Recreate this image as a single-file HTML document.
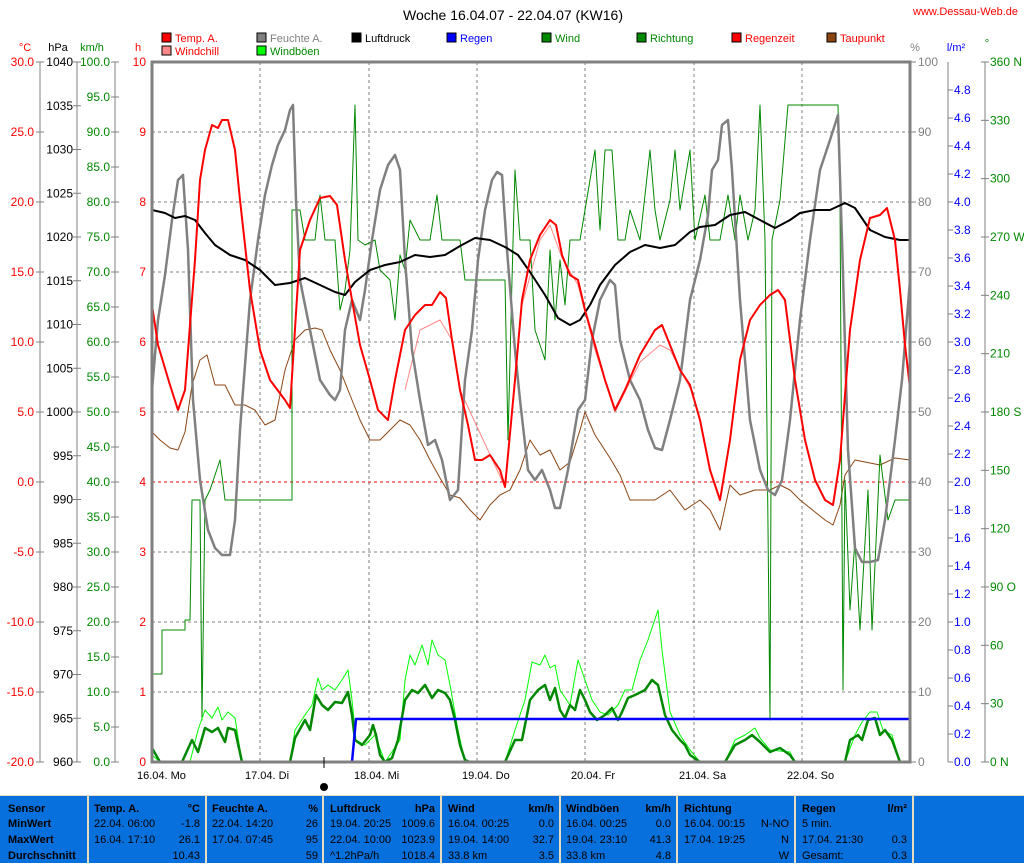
<!DOCTYPE html><html><head><meta charset="utf-8"><style>
body{margin:0;background:#fff;width:1024px;height:863px;overflow:hidden;font-family:"Liberation Sans",sans-serif}
svg text{font-family:"Liberation Sans",sans-serif;font-size:12px}
</style></head><body>
<svg width="1024" height="863" xmlns="http://www.w3.org/2000/svg">
<text x="513" y="20" text-anchor="middle" font-size="14" style="font-size:14px">Woche 16.04.07 - 22.04.07 (KW16)</text>
<text x="1018" y="15" text-anchor="end" fill="#f00" style="font-size:11px">www.Dessau-Web.de</text>
<!-- legend -->
<g style="font-size:11px">
<rect x="162" y="33" width="9" height="9" fill="#f00" stroke="#000"/><text x="175" y="42" fill="#f00" style="font-size:11px">Temp. A.</text>
<rect x="162" y="46" width="9" height="9" fill="#f88" stroke="#000"/><text x="175" y="55" fill="#f00" style="font-size:11px">Windchill</text>
<rect x="257" y="33" width="9" height="9" fill="#808080" stroke="#000"/><text x="270" y="42" fill="#808080" style="font-size:11px">Feuchte A.</text>
<rect x="257" y="46" width="9" height="9" fill="#0f0" stroke="#000"/><text x="270" y="55" fill="#080" style="font-size:11px">Windböen</text>
<rect x="352" y="33" width="9" height="9" fill="#000" stroke="#000"/><text x="365" y="42" fill="#000" style="font-size:11px">Luftdruck</text>
<rect x="447" y="33" width="9" height="9" fill="#00f" stroke="#000"/><text x="460" y="42" fill="#00f" style="font-size:11px">Regen</text>
<rect x="542" y="33" width="9" height="9" fill="#080" stroke="#000"/><text x="555" y="42" fill="#080" style="font-size:11px">Wind</text>
<rect x="637" y="33" width="9" height="9" fill="#080" stroke="#000"/><text x="650" y="42" fill="#080" style="font-size:11px">Richtung</text>
<rect x="732" y="33" width="9" height="9" fill="#f00" stroke="#000"/><text x="745" y="42" fill="#f00" style="font-size:11px">Regenzeit</text>
<rect x="827" y="33" width="9" height="9" fill="#8b4513" stroke="#000"/><text x="840" y="42" fill="#f00" style="font-size:11px">Taupunkt</text>
</g>
<text x="25" y="51" fill="#f00" text-anchor="middle" style="font-size:11px">°C</text>
<text x="58" y="51" text-anchor="middle" style="font-size:11px">hPa</text>
<text x="92" y="51" fill="#080" text-anchor="middle" style="font-size:11px">km/h</text>
<text x="138" y="51" fill="#f00" text-anchor="middle" style="font-size:11px">h</text>
<text x="915" y="51" fill="#808080" text-anchor="middle" style="font-size:11px">%</text>
<text x="956" y="51" fill="#00f" text-anchor="middle" style="font-size:11px">l/m²</text>
<text x="987" y="47" fill="#080" text-anchor="middle" style="font-size:11px">°</text>
<g id="axes"></g>
<!-- grid -->
<g stroke="#808080" stroke-dasharray="3,3" stroke-width="1">
<path d="M152 132H910M152 202H910M152 272H910M152 342H910M152 412H910M152 552H910M152 622H910M152 692H910"/>
<path d="M260 62V762M369 62V762M477 62V762M585 62V762M694 62V762M802 62V762"/>
</g>
<path d="M152 482H910" stroke="#f00" stroke-dasharray="3,3"/>
<g fill="none" stroke-linejoin="round">
<polyline stroke="#8b4513" stroke-width="1" points="152,432 160,440 170,448 178,450 185,432 192,385 200,360 207,355 215,385 225,385 235,405 245,405 255,410 265,425 275,420 285,370 295,340 305,330 315,328 322,330 330,350 340,370 350,395 360,420 370,440 380,440 390,430 400,420 410,425 420,440 430,460 440,478 450,495 460,498 470,510 480,520 490,505 500,495 510,490 520,470 530,440 540,455 550,450 560,470 570,462 580,430 585,412 595,435 610,458 620,475 630,500 640,500 655,500 670,490 685,510 700,500 710,510 720,530 730,485 740,495 755,490 770,490 780,485 790,490 800,500 815,512 825,520 833,525 840,505 845,475 855,460 865,462 880,465 895,458 910,460"/>
<polyline stroke="#080" stroke-width="1" points="152,674 162,674 162,630 185,630 185,620 190,620 192,500 200,500 202,720 205,500 210,490 220,460 225,500 292,500 292,210 300,210 305,240 315,240 320,195 325,240 335,240 340,310 345,290 350,250 355,105 358,240 365,245 375,240 380,270 390,280 395,320 400,255 405,270 410,220 420,240 430,240 437,195 442,240 460,240 465,280 505,280 508,440 512,280 515,170 520,240 530,240 535,330 545,360 550,250 555,320 560,260 565,305 570,240 580,240 595,150 600,230 605,150 612,150 618,240 625,240 630,210 640,240 650,150 655,210 660,240 670,200 675,150 680,210 690,150 695,240 705,195 710,240 720,240 728,195 735,240 740,195 748,240 755,210 760,105 765,240 770,720 772,240 780,200 788,105 838,105 840,200 843,690 845,480 850,610 855,540 860,630 868,490 872,630 880,455 888,520 895,500 910,500"/>
<polyline stroke="#f88" stroke-width="1" points="405,390 420,330 440,320 452,340 460,390 505,487 522,305 540,240 550,225 562,258 578,285 595,350 615,412 640,362 660,345 670,350 690,388"/>
<polyline stroke="#808080" stroke-width="2.5" points="152,390 158,320 165,275 172,220 178,180 183,175 188,250 193,400 200,480 208,530 215,548 222,555 230,555 235,520 240,430 250,300 258,240 265,195 272,165 278,145 285,130 290,110 293,105 296,200 300,280 310,330 320,380 330,395 335,400 340,390 345,330 352,300 360,320 365,290 372,240 380,190 388,165 395,155 400,170 405,260 412,350 420,400 428,445 435,440 442,460 450,500 458,490 465,380 472,330 478,260 485,210 492,180 497,172 502,175 507,250 515,350 520,400 528,470 535,480 542,470 550,490 555,508 560,508 568,470 578,410 585,400 592,340 600,300 610,280 615,285 620,340 630,380 640,400 648,430 655,448 662,450 670,420 680,380 690,300 700,260 708,215 712,170 718,160 722,125 728,120 732,170 740,300 750,420 760,470 768,490 775,495 782,480 790,420 800,320 810,240 820,170 830,140 838,115 842,240 848,450 855,548 862,562 870,562 878,560 885,520 895,440 902,380 910,280"/>
<polyline stroke="#000" stroke-width="2" points="152,210 165,213 175,218 185,216 195,220 205,233 215,245 230,255 245,260 260,270 275,285 290,283 305,278 320,285 335,292 345,295 355,282 370,270 385,265 400,262 415,255 430,257 445,255 460,246 475,238 490,240 505,247 518,255 530,272 545,295 558,318 570,325 580,320 590,305 600,285 615,265 630,252 645,245 660,248 675,245 690,232 700,227 715,225 730,215 745,212 760,220 775,228 790,220 800,213 815,210 830,210 845,203 855,208 870,230 885,237 900,240 910,240"/>
<polyline stroke="#f00" stroke-width="2" points="152,305 158,345 170,385 178,410 185,390 195,260 200,180 205,150 212,125 218,128 222,120 228,120 235,150 240,200 250,290 260,350 270,380 285,400 290,408 300,250 310,220 320,198 330,196 337,205 345,260 352,300 360,345 370,380 378,410 388,420 395,380 405,330 415,315 425,305 432,305 440,292 446,298 452,340 460,390 468,425 475,460 482,460 490,455 500,470 505,487 515,380 522,300 530,260 540,235 550,220 556,225 562,255 570,275 578,280 585,310 595,345 605,380 615,410 625,390 640,355 655,330 662,325 670,345 680,370 690,385 700,420 710,470 720,500 730,440 740,360 750,320 760,305 770,295 778,290 785,300 795,380 805,440 815,480 825,500 833,505 840,460 850,330 860,260 870,218 880,215 887,208 895,240 900,290 905,345 910,388"/>
<polyline stroke="#0f0" stroke-width="1" points="152,755 160,762 190,762 198,730 205,710 212,718 218,707 222,720 228,712 235,718 242,762 290,762 295,730 305,715 312,705 318,678 322,690 328,685 335,690 342,680 348,670 352,700 356,740 365,745 375,735 385,762 400,740 405,680 410,655 415,665 422,645 428,665 432,640 438,655 445,660 450,685 458,730 465,762 505,762 515,730 525,700 532,662 540,665 545,655 550,668 555,665 560,690 570,705 578,660 585,680 592,700 600,712 608,715 618,705 625,690 632,690 640,660 648,640 653,625 658,610 662,650 670,712 680,735 690,750 700,762 725,762 735,740 745,735 755,728 760,738 770,750 790,752 795,762 845,762 855,735 862,722 870,712 877,712 883,730 892,735 900,762 910,762"/>
<polyline stroke="#080" stroke-width="2.5" points="152,748 160,762 182,762 192,740 198,752 205,728 212,732 218,728 225,742 228,728 235,730 242,762 290,762 295,738 305,720 310,730 316,695 322,705 328,710 335,702 342,703 348,692 352,715 355,740 362,745 370,735 373,725 376,735 380,755 385,762 392,758 398,740 405,700 412,690 418,693 425,685 432,698 438,690 445,693 450,700 455,720 460,745 465,760 470,762 505,762 515,740 522,740 530,700 538,690 545,685 550,700 555,688 560,710 565,718 570,705 575,710 580,690 585,700 590,712 597,720 605,715 612,708 618,720 622,712 628,698 635,695 645,690 652,680 658,685 665,715 672,730 680,740 685,745 690,755 700,762 725,762 735,745 745,740 752,735 760,742 770,752 780,748 790,755 795,762 845,762 850,740 858,735 862,740 868,720 875,718 880,735 885,730 892,740 900,762 910,762"/>
<polyline stroke="#00f" stroke-width="2.5" points="152,762 352,762 356,719 910,719"/>
</g>
<!-- plot frame -->
<path d="M152 62H910V762H152Z" fill="none" stroke="#808080" stroke-width="3"/>
<line x1="324" y1="757" x2="324" y2="768" stroke="#000"/>
<circle cx="324" cy="787" r="4" fill="#000"/>
<g style="font-size:11px">
<text x="137" y="779" style="font-size:11px">16.04.  Mo</text>
<text x="245" y="779" style="font-size:11px">17.04.  Di</text>
<text x="354" y="779" style="font-size:11px">18.04.  Mi</text>
<text x="462" y="779" style="font-size:11px">19.04.  Do</text>
<text x="571" y="779" style="font-size:11px">20.04.  Fr</text>
<text x="679" y="779" style="font-size:11px">21.04.  Sa</text>
<text x="787" y="779" style="font-size:11px">22.04.  So</text>
</g>
<!-- table -->
<rect x="0" y="795" width="1024" height="68" fill="#0870dc"/>
<path d="M0 795.5H1024" stroke="#e8dcc0"/>
<g stroke="#e8dcc0" stroke-width="2"><path d="M88 796V863M206 796V863M323 796V863M441 796V863M560 796V863M677 796V863M795 796V863M913 796V863"/></g>
<g style="font-size:11px" fill="#000">
<text x="8" y="812" font-weight="bold" style="font-size:11px;font-weight:bold">Sensor</text>
<text x="8" y="827" font-weight="bold" style="font-size:11px;font-weight:bold">MinWert</text>
<text x="8" y="843" font-weight="bold" style="font-size:11px;font-weight:bold">MaxWert</text>
<text x="8" y="859" font-weight="bold" style="font-size:11px;font-weight:bold">Durchschnitt</text>
</g>
<script>
(function(){
var ns="http://www.w3.org/2000/svg",svg=document.querySelector("svg");
function t(x,y,s,o){var e=document.createElementNS(ns,"text");e.setAttribute("x",x);e.setAttribute("y",y);e.textContent=s;o=o||{};e.setAttribute("text-anchor",o.a||"start");e.setAttribute("fill",o.f||"#000");e.setAttribute("style","font-size:"+(o.s||12)+"px;"+(o.b?"font-weight:bold":""));svg.appendChild(e);}
function l(d,c){var e=document.createElementNS(ns,"path");e.setAttribute("d",d);e.setAttribute("stroke",c||"#808080");e.setAttribute("fill","none");svg.insertBefore(e,svg.firstChild.nextSibling);}
var i,y;
// C axis
l("M40 62V762");for(i=0;i<=10;i++){y=62+i*70;l("M36 "+y+"H44");t(34,y+4,(30-5*i).toFixed(1),{a:"end",f:"#f00"});}
// hPa
l("M77 62V762");for(i=0;i<=16;i++){y=62+i*43.75;l("M73 "+y+"H81");t(73,y+4,1040-5*i,{a:"end"});}
// km/h
l("M115 62V762");for(i=0;i<=20;i++){y=62+i*35;l("M111 "+y+"H119");t(110,y+4,(100-5*i).toFixed(1),{a:"end",f:"#080"});}
// h
for(i=0;i<=10;i++){y=62+i*70;t(146,y+4,10-i,{a:"end",f:"#f00"});}
// %
for(i=0;i<=10;i++){y=62+i*70;l("M910 "+y+"H916");t(918,y+4,100-10*i,{f:"#808080"});}
// l/m2
l("M948 62V762");for(i=1;i<=25;i++){y=62+i*28;l("M948 "+y+"H953");t(954,y+4,(5-0.2*i).toFixed(1),{f:"#00f"});}
// deg
l("M985 62V762");var lab={360:" N",270:" W",180:" S",90:" O",0:" N"};for(i=0;i<=12;i++){y=62+i*58.333;var d=360-30*i;l("M981 "+y+"H989");t(990,y+4,d+(lab[d]||""),{f:"#080"});}
// table
var cols=[[94,200,"Temp. A.","°C",["22.04.  06:00","-1.8"],["16.04.  17:10","26.1"],["","10.43"]],
[212,318,"Feuchte A.","%",["22.04.  14:20","26"],["17.04.  07:45","95"],["","59"]],
[330,435,"Luftdruck","hPa",["19.04.  20:25","1009.6"],["22.04.  10:00","1023.9"],["^1.2hPa/h","1018.4"]],
[448,554,"Wind","km/h",["16.04.  00:25","0.0"],["19.04.  14:00","32.7"],["33.8 km","3.5"]],
[566,671,"Windböen","km/h",["16.04.  00:25","0.0"],["19.04.  23:10","41.3"],["33.8 km","4.8"]],
[684,789,"Richtung","",["16.04.  00:15","N-NO"],["17.04.  19:25","N"],["","W"]],
[802,907,"Regen","l/m²",["5 min.",""],["17.04.  21:30","0.3"],["Gesamt:","0.3"]]];
cols.forEach(function(c){t(c[0],812,c[2],{s:11,b:1});t(c[1],812,c[3],{s:11,b:1,a:"end"});
[827,843,859].forEach(function(yy,k){t(c[0],yy,c[4+k][0],{s:11});t(c[1],yy,c[4+k][1],{s:11,a:"end"});});});
})();
</script>
</svg>
</body></html>
